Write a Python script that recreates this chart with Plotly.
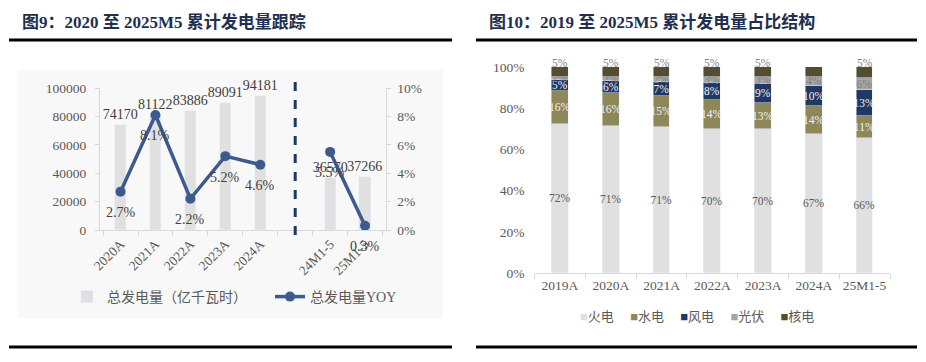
import plotly.graph_objects as go

# ---------------- data ----------------
gap = "gap"
left_categories = ["2020A", "2021A", "2022A", "2023A", "2024A", gap, "24M1-5", "25M1-5"]
generation = [74170, 81122, 83886, 89091, 94181, None, 36570, 37266]   # 亿千瓦时
yoy = [2.7, 8.1, 2.2, 5.2, 4.6, None, 5.5, 0.3]                         # %

right_categories = ["2019A", "2020A", "2021A", "2022A", "2023A", "2024A", "25M1-5"]
thermal = [72.4, 71.2, 71.1, 69.8, 69.9, 67.4, 65.7]
hydro = [16.1, 16.4, 14.6, 14.3, 12.8, 13.5, 10.5]
wind = [5.0, 5.6, 7.0, 8.2, 9.1, 9.9, 12.7]
solar = [1.6, 1.9, 2.3, 2.7, 3.3, 4.4, 6.0]
nuclear = [4.9, 4.9, 5.0, 5.0, 4.9, 4.8, 5.1]

left_title = "图9：2020 至 2025M5 累计发电量跟踪"
right_title = "图10：2019 至 2025M5 累计发电量占比结构"

# ---------------- style ----------------
W, H = 926, 362
SERIF = "Liberation Serif, 'Noto Sans CJK SC', serif"
TXT = "#595959"
AX = "#d9d9d9"

def px(x):
    return x / W

def py(y):
    return 1 - y / H

fig = go.Figure()

# left: generation bars
fig.add_trace(go.Bar(
    x=left_categories, y=generation, xaxis="x", yaxis="y",
    name="总发电量（亿千瓦时）", legend="legend",
    marker=dict(color="#e0e0e0"), width=0.32,
    text=["" if v is None else str(v) for v in generation],
    textposition="outside", cliponaxis=False, constraintext="none",
    textfont=dict(family=SERIF, size=14, color="#404040"),
))
# left: YOY line
fig.add_trace(go.Scatter(
    x=left_categories, y=yoy, xaxis="x", yaxis="y2",
    name="总发电量YOY", legend="legend",
    mode="lines+markers", connectgaps=False, cliponaxis=False,
    line=dict(color="#3d5a8e", width=3.5),
    marker=dict(color="#3d5a8e", size=10),
))

# right: stacked share bars
series = [
    ("火电", thermal, "#e0e0e0", "#595959", "inside"),
    ("水电", hydro, "#8e875a", "#f2f2f2", "inside"),
    ("风电", wind, "#1f3864", "#f2f2f2", "inside"),
    ("光伏", solar, "#a6a6a6", "#7f7f7f", "inside"),
    ("核电", nuclear, "#524d33", "#7f7f7f", "none"),
]
for name, vals, color, tcolor, tpos in series:
    fig.add_trace(go.Bar(
        x=right_categories, y=vals, xaxis="x2", yaxis="y3",
        name=name, showlegend=False,
        marker=dict(color=color), width=0.33,
        texttemplate="%{y:.0f}%", textposition=tpos, textangle=0,
        insidetextanchor="middle", constraintext="none", cliponaxis=False,
        textfont=dict(family=SERIF, size=11.5, color=tcolor),
    ))

axis_font = dict(family=SERIF, size=13.5, color=TXT)

annotations = [
    dict(text=f"<b>{left_title}</b>", x=px(20), y=py(22), xref="paper", yref="paper",
         xanchor="left", yanchor="middle", showarrow=False,
         font=dict(family=SERIF, size=17, color="#1f2f4f")),
    dict(text=f"<b>{right_title}</b>", x=px(487), y=py(22), xref="paper", yref="paper",
         xanchor="left", yanchor="middle", showarrow=False,
         font=dict(family=SERIF, size=17, color="#1f2f4f")),
]
# YOY data labels, below each point
for cat, v in zip(left_categories, yoy):
    if v is None:
        continue
    annotations.append(dict(
        x=cat, y=v, xref="x", yref="y2", yshift=-21, showarrow=False,
        text=f"{v:.1f}%", xanchor="center", yanchor="middle",
        font=dict(family=SERIF, size=14, color="#404040"),
    ))
# nuclear labels sit on top of each stack
for i, cat in enumerate(right_categories):
    total = thermal[i] + hydro[i] + wind[i] + solar[i] + nuclear[i]
    annotations.append(dict(
        x=cat, y=total, xref="x2", yref="y3", yshift=4, showarrow=False,
        text=f"{nuclear[i]:.0f}%", xanchor="center", yanchor="middle",
        font=dict(family=SERIF, size=11.5, color="#7f7f7f"),
    ))
# compact legend for the share chart
sep = "&nbsp;" * 5
legend_html = sep.join(
    f"<span style='color:{c}'>■</span>{n}" for n, _, c, _, _ in series
)
annotations.append(dict(
    text=legend_html, x=px(697), y=py(316), xref="paper", yref="paper",
    xanchor="center", yanchor="middle", showarrow=False,
    font=dict(family=SERIF, size=13, color=TXT),
))

fig.update_layout(
    width=W, height=H,
    margin=dict(l=0, r=0, t=0, b=0, autoexpand=False),
    paper_bgcolor="white", plot_bgcolor="rgba(0,0,0,0)",
    barmode="stack", bargap=0,
    font=dict(family=SERIF, color=TXT),
    xaxis=dict(
        domain=[px(100), px(385.6)], anchor="y",
        type="category", categoryorder="array", categoryarray=left_categories,
        tickmode="array", tickvals=left_categories,
        ticktext=["" if c == gap else c for c in left_categories],
        tickangle=-45, tickfont=axis_font,
        showline=True, linecolor=AX, linewidth=1,
        ticks="outside", tickson="boundaries", ticklen=5, tickcolor=AX,
        showgrid=False, zeroline=False, automargin=False,
    ),
    yaxis=dict(
        domain=[py(230), py(88)], anchor="x",
        range=[0, 100000], dtick=20000, tickformat="d",
        tickfont=axis_font, showline=True, linecolor=AX,
        ticks="outside", ticklen=4, tickcolor=AX, ticklabelstandoff=6,
        showgrid=False, zeroline=False, automargin=False,
    ),
    yaxis2=dict(
        overlaying="y", side="right", anchor="x",
        range=[0, 10], dtick=2, ticksuffix="%",
        tickfont=axis_font, showline=True, linecolor=AX,
        ticks="outside", ticklen=4, tickcolor=AX, ticklabelstandoff=4,
        showgrid=False, zeroline=False, automargin=False,
    ),
    xaxis2=dict(
        domain=[px(534.6), px(890)], anchor="y3",
        type="category", tickfont=axis_font, tickangle=0,
        showline=True, linecolor=AX, linewidth=1,
        ticks="outside", tickson="boundaries", ticklen=5, tickcolor=AX,
        showgrid=False, zeroline=False, automargin=False,
    ),
    yaxis3=dict(
        domain=[py(273), py(67)], anchor="x2",
        range=[0, 100], dtick=20, ticksuffix="%",
        tickfont=axis_font, showline=False, ticks="", ticklabelstandoff=9,
        showgrid=False, zeroline=False, automargin=False,
    ),
    legend=dict(
        orientation="h", x=px(67), y=py(297), xanchor="left", yanchor="middle",
        font=dict(family=SERIF, size=14, color=TXT), bgcolor="rgba(0,0,0,0)",
        traceorder="normal", itemwidth=30, entrywidth=158,
    ),
    annotations=annotations,
    shapes=[
        dict(type="rect", xref="paper", yref="paper", x0=px(18), x1=px(443), y0=py(318), y1=py(70),
             fillcolor="#f8f8f8", line=dict(width=0), layer="below"),
        dict(type="line", xref="paper", yref="paper", x0=px(9), x1=px(452), y0=py(40), y1=py(40),
             line=dict(color="black", width=3)),
        dict(type="line", xref="paper", yref="paper", x0=px(476), x1=px(917), y0=py(40), y1=py(40),
             line=dict(color="black", width=3)),
        dict(type="line", xref="paper", yref="paper", x0=px(9), x1=px(452), y0=py(347), y1=py(347),
             line=dict(color="black", width=3)),
        dict(type="line", xref="paper", yref="paper", x0=px(476), x1=px(917), y0=py(347), y1=py(347),
             line=dict(color="black", width=3)),
        dict(type="line", xref="x", yref="paper",
             x0=left_categories.index(gap), x1=left_categories.index(gap),
             y0=py(235), y1=py(77),
             line=dict(color="#1f3864", width=3, dash="dash")),
    ],
)

fig.write_html("out.html", config={"displayModeBar": False},
               post_script="document.body.style.margin='0';")
